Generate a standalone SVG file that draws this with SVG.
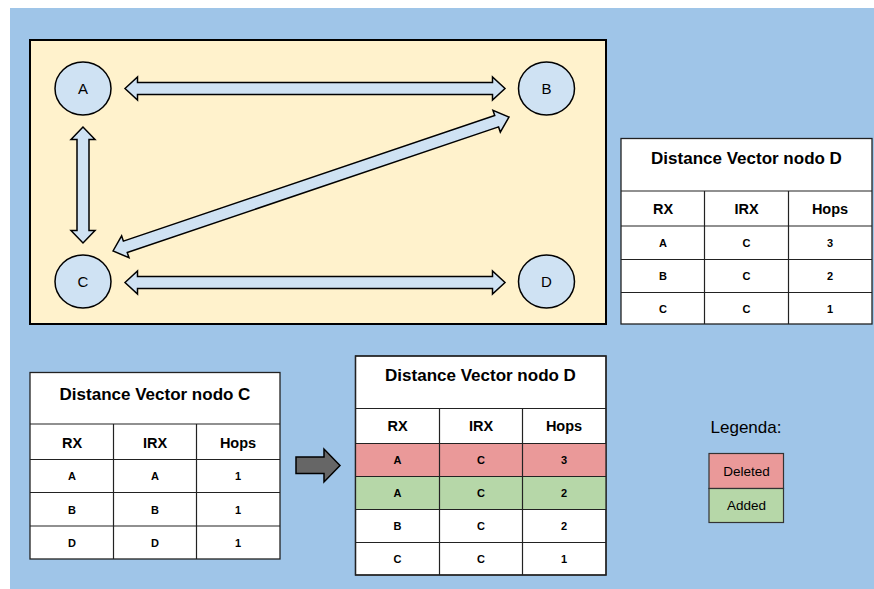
<svg xmlns="http://www.w3.org/2000/svg" width="874" height="589" viewBox="0 0 874 589">
<style>
text{font-family:"Liberation Sans",Arial,sans-serif;text-anchor:middle;fill:#000}
.node{fill:#cfe2f3;stroke:#000;stroke-width:1.5}
.lbl{font-size:15px}
.arr{fill:#cfe2f3;stroke:#000;stroke-width:1.5;stroke-linejoin:miter}
.tbl{fill:#fff;stroke:#222;stroke-width:1.3}
.ln{stroke:#222;stroke-width:1.2}
.ttl{font-size:17px;font-weight:bold}
.hdr{font-size:14.5px;font-weight:bold}
.cell{font-size:11px;font-weight:bold}
.del{fill:#ea9999}
.add{fill:#b6d7a8}
</style>
<rect x="10" y="8" width="864" height="581" fill="#9fc5e8"/>
<rect id="network" x="30" y="40" width="576" height="284" fill="#fff2cc" stroke="#000" stroke-width="2"/>
<g id="connectors">
<polygon class="arr" points="125,88.5 137.5,77 137.5,82.5 492.5,82.5 492.5,77 505,88.5 492.5,100 492.5,94.5 137.5,94.5 137.5,100"/>
<polygon class="arr" points="125,282.5 137.5,271 137.5,276.5 492.5,276.5 492.5,271 505,282.5 492.5,294 492.5,288.5 137.5,288.5 137.5,294"/>
<polygon class="arr" points="83,127 71,139.5 77,139.5 77,230.5 71,230.5 83,243 95,230.5 89,230.5 89,139.5 95,139.5"/>
<polygon class="arr" transform="translate(113,251) rotate(-18.69)" points="0,0 13,-11.5 13,-6 405,-6 405,-11.5 418,0 405,11.5 405,6 13,6 13,11.5"/>
<polygon id="transition" points="296,457 324,457 324,449 340,465.5 324,482 324,473.5 296,473.5" fill="#666" stroke="#000" stroke-width="1.5"/>
</g>
<g id="nodeA"><ellipse class="node" cx="83" cy="88.5" rx="28" ry="26.5"/><text class="lbl" x="83" y="94">A</text></g>
<g id="nodeB"><ellipse class="node" cx="546.5" cy="88.5" rx="28" ry="26.5"/><text class="lbl" x="546.5" y="94">B</text></g>
<g id="nodeC"><ellipse class="node" cx="83" cy="281.5" rx="28" ry="26.5"/><text class="lbl" x="83" y="287">C</text></g>
<g id="nodeD"><ellipse class="node" cx="546.5" cy="281.5" rx="28" ry="26.5"/><text class="lbl" x="546.5" y="287">D</text></g>

<g id="tableD1">
<rect class="tbl" x="621" y="138.5" width="251" height="185.5"/>
<line class="ln" x1="621" y1="191" x2="872" y2="191"/>
<line class="ln" x1="621" y1="226" x2="872" y2="226"/>
<line class="ln" x1="621" y1="259.5" x2="872" y2="259.5"/>
<line class="ln" x1="621" y1="292.5" x2="872" y2="292.5"/>
<line class="ln" x1="704.5" y1="191" x2="704.5" y2="324"/>
<line class="ln" x1="788.5" y1="191" x2="788.5" y2="324"/>
<text class="ttl" x="746.5" y="163.5">Distance Vector nodo D</text>
<text class="hdr" x="663" y="213.5">RX</text><text class="hdr" x="746.5" y="213.5">IRX</text><text class="hdr" x="830" y="213.5">Hops</text>
<text class="cell" x="663" y="247">A</text><text class="cell" x="746.5" y="247">C</text><text class="cell" x="830" y="247">3</text>
<text class="cell" x="663" y="280">B</text><text class="cell" x="746.5" y="280">C</text><text class="cell" x="830" y="280">2</text>
<text class="cell" x="663" y="312.5">C</text><text class="cell" x="746.5" y="312.5">C</text><text class="cell" x="830" y="312.5">1</text>
</g>

<g id="tableC">
<rect class="tbl" x="30" y="372.5" width="250" height="186.5"/>
<line class="ln" x1="30" y1="424" x2="280" y2="424"/>
<line class="ln" x1="30" y1="459.5" x2="280" y2="459.5"/>
<line class="ln" x1="30" y1="492.5" x2="280" y2="492.5"/>
<line class="ln" x1="30" y1="526" x2="280" y2="526"/>
<line class="ln" x1="113.5" y1="424" x2="113.5" y2="559"/>
<line class="ln" x1="196.5" y1="424" x2="196.5" y2="559"/>
<text class="ttl" x="155" y="399.5">Distance Vector nodo C</text>
<text class="hdr" x="72" y="448">RX</text><text class="hdr" x="155" y="448">IRX</text><text class="hdr" x="238" y="448">Hops</text>
<text class="cell" x="72" y="480">A</text><text class="cell" x="155" y="480">A</text><text class="cell" x="238" y="480">1</text>
<text class="cell" x="72" y="513.5">B</text><text class="cell" x="155" y="513.5">B</text><text class="cell" x="238" y="513.5">1</text>
<text class="cell" x="72" y="546.5">D</text><text class="cell" x="155" y="546.5">D</text><text class="cell" x="238" y="546.5">1</text>
</g>

<g id="tableD2">
<rect class="tbl" x="355.5" y="356" width="250.5" height="219"/>
<rect class="del" x="355.5" y="443.5" width="250.5" height="33"/>
<rect class="add" x="355.5" y="476.5" width="250.5" height="33"/>
<line class="ln" x1="355.5" y1="408.5" x2="606" y2="408.5"/>
<line class="ln" x1="355.5" y1="443.5" x2="606" y2="443.5"/>
<line class="ln" x1="355.5" y1="476.5" x2="606" y2="476.5"/>
<line class="ln" x1="355.5" y1="509.5" x2="606" y2="509.5"/>
<line class="ln" x1="355.5" y1="542.5" x2="606" y2="542.5"/>
<line class="ln" x1="439.5" y1="408.5" x2="439.5" y2="575"/>
<line class="ln" x1="522.5" y1="408.5" x2="522.5" y2="575"/>
<rect x="355.5" y="356" width="250.5" height="219" fill="none" stroke="#222" stroke-width="1.3"/>
<text class="ttl" x="480.5" y="381">Distance Vector nodo D</text>
<text class="hdr" x="397.5" y="431">RX</text><text class="hdr" x="481" y="431">IRX</text><text class="hdr" x="564" y="431">Hops</text>
<text class="cell" x="397.5" y="464">A</text><text class="cell" x="481" y="464">C</text><text class="cell" x="564" y="464">3</text>
<text class="cell" x="397.5" y="497">A</text><text class="cell" x="481" y="497">C</text><text class="cell" x="564" y="497">2</text>
<text class="cell" x="397.5" y="530">B</text><text class="cell" x="481" y="530">C</text><text class="cell" x="564" y="530">2</text>
<text class="cell" x="397.5" y="562.5">C</text><text class="cell" x="481" y="562.5">C</text><text class="cell" x="564" y="562.5">1</text>
</g>

<g id="legend">
<text x="746" y="433" font-size="17">Legenda:</text>
<rect class="del" x="709" y="453.5" width="74.5" height="35" stroke="#333" stroke-width="1.2"/>
<rect class="add" x="709" y="488.5" width="74.5" height="34" stroke="#333" stroke-width="1.2"/>
<text x="746.5" y="475.5" font-size="13.5">Deleted</text>
<text x="746.5" y="510" font-size="13.5">Added</text>
</g>
</svg>
